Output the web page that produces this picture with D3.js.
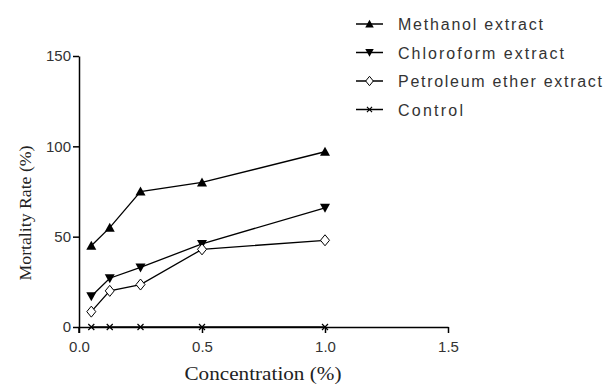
<!DOCTYPE html>
<html>
<head>
<meta charset="utf-8">
<script src="https://cdn.jsdelivr.net/npm/d3@7"></script>
<style>
  body { margin: 0; background: #fff; }
  svg { display: block; }
</style>
</head>
<body>
<svg id="chart" width="607" height="385"></svg>
<script>
// values
const concentrations = [0.05, 0.125, 0.25, 0.5, 1.0];
const methanol = [45, 55, 75, 80, 97];
const chloroform = [17, 27, 33, 46, 66];
const petroleum = [8.5, 20, 23.5, 43, 48];
const control = [0, 0, 0, 0, 0];
const seriesNames = ["Methanol extract", "Chloroform extract", "Petroleum ether extract", "Control"];
const xTicks = [0.0, 0.5, 1.0, 1.5];
const yTicks = [0, 50, 100, 150];

const svg = d3.select("#chart");
const x = d3.scaleLinear().domain([0, 1.5]).range([79, 448]);
const y = d3.scaleLinear().domain([0, 150]).range([327, 56]);

const series = [
    {name: seriesNames[0], values: methanol, marker: "up"},
    {name: seriesNames[1], values: chloroform, marker: "down"},
    {name: seriesNames[2], values: petroleum, marker: "diamond"},
    {name: seriesNames[3], values: control, marker: "cross"}
];

function drawMarker(g, type, cx, cy, s) {
    s = s || 1;
    if (type == "up") {
        g.append("path").attr("d", `M${cx},${cy-5*s}L${cx+5*s},${cy+4*s}L${cx-5*s},${cy+4*s}Z`).attr("fill", "black");
    } else if (type == "down") {
        g.append("path").attr("d", `M${cx},${cy+5*s}L${cx+5*s},${cy-4*s}L${cx-5*s},${cy-4*s}Z`).attr("fill", "black");
    } else if (type == "diamond") {
        g.append("path").attr("d", `M${cx},${cy-5.5*s}L${cx+4.5*s},${cy}L${cx},${cy+5.5*s}L${cx-4.5*s},${cy}Z`)
            .attr("fill", "white").attr("stroke", "black").attr("stroke-width", 1);
    } else {
        g.append("path").attr("d", `M${cx-3*s},${cy-3*s}L${cx+3*s},${cy+3*s}M${cx+3*s},${cy-3*s}L${cx-3*s},${cy+3*s}`)
            .attr("stroke", "black").attr("stroke-width", 1.2);
    }
}

// axes
const xAxis = svg.append("g")
    .attr("transform", "translate(0," + y(0) + ")")
    .call(d3.axisBottom(x).tickValues(xTicks).tickFormat(d3.format(".1f")).tickSize(6).tickSizeOuter(0));
const yAxis = svg.append("g")
    .attr("transform", "translate(" + x(0) + ",0)")
    .call(d3.axisLeft(y).tickValues(yTicks).tickSize(6).tickSizeOuter(0));

[xAxis, yAxis].forEach(function(a) {
    a.select(".domain").attr("stroke", "black").attr("stroke-width", 1.5);
    a.selectAll(".tick line").attr("stroke", "black").attr("stroke-width", 1.5);
    a.selectAll(".tick text").attr("fill", "#333")
        .style("font-family", "Liberation Sans, Arial, sans-serif").style("font-size", "15px");
});
xAxis.selectAll(".tick text").attr("dy", "1.05em");
yAxis.selectAll(".tick text").attr("x", -8);
// little stub of the y axis below the x axis
svg.append("line").attr("x1", x(0)).attr("x2", x(0)).attr("y1", y(0)).attr("y2", y(0) + 6)
    .attr("stroke", "black").attr("stroke-width", 1.5);

// lines and markers
const line = d3.line().x(function(d, i) { return x(concentrations[i]); }).y(function(d) { return y(d); });
series.forEach(function(s) {
    const g = svg.append("g");
    g.append("path").datum(s.values).attr("d", line)
        .attr("fill", "none").attr("stroke", "black").attr("stroke-width", 1.3);
    s.values.forEach(function(v, i) { drawMarker(g, s.marker, x(concentrations[i]), y(v)); });
});

// legend
const legendX = 356, legendY = 24, legendStep = 28.5;
const legendLengths = [145, 166, 204, 65];
series.forEach(function(s, i) {
    const ly = legendY + i * legendStep;
    const g = svg.append("g");
    g.append("line").attr("x1", legendX).attr("x2", legendX + 27).attr("y1", ly).attr("y2", ly)
        .attr("stroke", "black").attr("stroke-width", 1.5);
    drawMarker(g, s.marker, legendX + 13.5, ly, 0.85);
    g.append("text").text(s.name).attr("x", 398).attr("y", ly + 6)
        .attr("textLength", legendLengths[i]).attr("lengthAdjust", "spacing")
        .attr("fill", "#333")
        .style("font-family", "Liberation Sans, Arial, sans-serif").style("font-size", "16px");
});

// titles
svg.append("text").text("Concentration (%)").attr("x", 263).attr("y", 380)
    .attr("text-anchor", "middle").attr("textLength", 157).attr("lengthAdjust", "spacingAndGlyphs")
    .attr("fill", "#222").style("font-family", "Liberation Serif, Times New Roman, serif").style("font-size", "18px");
svg.append("text").text("Mortality Rate (%)").attr("transform", "translate(31,213) rotate(-90)")
    .attr("text-anchor", "middle").attr("textLength", 135).attr("lengthAdjust", "spacingAndGlyphs")
    .attr("fill", "#222").style("font-family", "Liberation Serif, Times New Roman, serif").style("font-size", "17px");
</script>
</body>
</html>
